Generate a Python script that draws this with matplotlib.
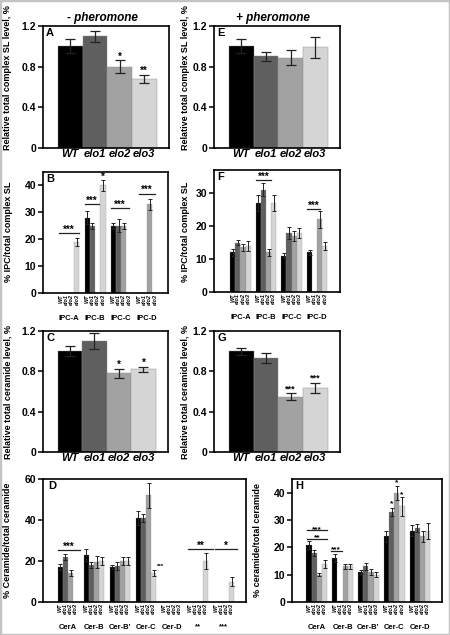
import numpy as np
import matplotlib
matplotlib.use('Agg')
import matplotlib.pyplot as plt
from matplotlib.patches import Rectangle

plt.rcParams['font.family'] = ['Liberation Sans', 'DejaVu Sans']
plt.rcParams['font.weight'] = 'bold'
plt.rcParams['axes.linewidth'] = 1.2

genotypes = ['WT', 'elo1', 'elo2', 'elo3']
colors = ['#000000', '#5f5f5f', '#a2a2a2', '#d5d5d5']

# relative totals (A, E, C, G)
a_vals = [1.0, 1.1, 0.8, 0.68]
a_err = [0.07, 0.055, 0.065, 0.04]
e_vals = [1.0, 0.9, 0.89, 0.99]
e_err = [0.07, 0.045, 0.07, 0.1]
c_vals = [1.0, 1.1, 0.78, 0.82]
c_err = [0.05, 0.08, 0.045, 0.022]
g_vals = [1.0, 0.93, 0.55, 0.635]
g_err = [0.035, 0.047, 0.035, 0.05]

# IPC species (B: - pheromone, F: + pheromone), rows = genotypes
ipc_groups = ['IPC-A', 'IPC-B', 'IPC-C', 'IPC-D']
b_vals = [[0, 28, 25, 0],
          [0, 25, 25, 0],
          [0, 0, 25, 33],
          [19, 40, 0, 0]]
b_err = [[0, 2.5, 1.2, 0],
         [0, 1.2, 2.5, 0],
         [0, 0, 1.2, 2],
         [1.5, 2, 0, 0]]
f_vals = [[12, 27, 11, 12],
          [15, 31, 18, 0],
          [13.5, 12, 17, 22],
          [14, 27, 18, 14]]
f_err = [[1, 2.5, 0.8, 0.8],
         [0.8, 2, 1.8, 0],
         [1, 1, 1.5, 2.5],
         [1.5, 2.5, 1.5, 1.2]]

# ceramide species (D: - pheromone, H: + pheromone)
d_groups = ['CerA', 'Cer-B', "Cer-B'", 'Cer-C', 'Cer-D', '**', '***']
d_vals = [[17, 23, 17, 41, 0, 0, 0],
          [22, 18, 17.5, 41, 0, 0, 0],
          [14, 19.5, 20, 52, 0, 0, 0],
          [0, 20, 20, 14, 0, 20, 10]]
d_err = [[1.5, 3, 1, 3.5, 0, 0, 0],
         [1.5, 1.5, 2, 2, 0, 0, 0],
         [1.5, 3, 2, 6, 0, 0, 0],
         [0, 2, 2, 1.5, 0, 4, 2]]
h_groups = ['CerA', 'Cer-B', "Cer-B'", 'Cer-C', 'Cer-D']
h_vals = [[21, 16, 11, 24, 26],
          [18, 0.5, 13, 33, 27],
          [10, 13, 11, 40, 24],
          [14, 13, 10, 35, 26]]
h_err = [[1.5, 1.5, 0.8, 2, 2],
         [1, 0, 1.2, 1.5, 1.5],
         [0.5, 1, 1, 2.5, 2],
         [1.5, 1, 0.8, 3.5, 3]]

W, H = 450, 635
fig = plt.figure(figsize=(W / 100, H / 100), dpi=100)
fig.patches.append(Rectangle((0, 0), 1, 1, transform=fig.transFigure,
                             fill=False, edgecolor='#c4c4c4', lw=2.5))


def ax_at(l, t, r, b):
    return fig.add_axes([l / W, 1 - b / H, (r - l) / W, (b - t) / H])


def style(ax, letter, ylim, yticks, ytl):
    ax.set_ylim(*ylim)
    ax.set_yticks(yticks)
    ax.set_yticklabels(ytl, fontsize=7.5, fontweight='bold')
    ax.tick_params(axis='y', direction='out', length=3.5, width=1.1, pad=1.5)
    ax.tick_params(axis='x', length=0)
    ax.text(0.025, 0.985, letter, transform=ax.transAxes, fontsize=8,
            fontweight='bold', va='top', ha='left')


def simple(ax, vals, err, letter):
    x = np.arange(4)
    ax.bar(x, vals, width=1.0, color=colors, edgecolor='#8a8a8a', linewidth=0.3)
    ax.errorbar(x, vals, yerr=err, fmt='none', ecolor='#222222', elinewidth=0.9,
                capsize=3.5, capthick=0.9)
    ax.set_xlim(-1.1, 4.0)
    ax.set_xticks(x)
    ax.set_xticklabels(genotypes, fontsize=8, fontweight='bold', style='italic')
    ax.tick_params(axis='x', pad=1)
    style(ax, letter, (0, 1.2), [0, 0.4, 0.8, 1.2], ['0', '0.4', '0.8', '1.2'])


def grouped(ax, groups, vals, err, letter, xlim):
    n = len(groups)
    offs = [-0.3, -0.1, 0.1, 0.3]
    pos, labs = [], []
    for k in range(4):
        xs = np.arange(n) + offs[k]
        v = np.array(vals[k], float)
        e = np.array(err[k], float)
        ax.bar(xs, v, width=0.2, color=colors[k], edgecolor='#8a8a8a', linewidth=0.2)
        m = v > 0
        ax.errorbar(xs[m], v[m], yerr=e[m], fmt='none', ecolor='#222222',
                    elinewidth=0.7, capsize=1.3, capthick=0.7)
    for g in range(n):
        for k in range(4):
            pos.append(g + offs[k])
            labs.append(genotypes[k])
    ax.set_xlim(*xlim)
    ax.set_xticks(pos)
    ax.set_xticklabels(labs, rotation=90, fontsize=4, style='italic', fontweight='bold')
    ax.tick_params(axis='x', pad=1)
    for g, name in enumerate(groups):
        ax.annotate(name, xy=(g, 0), xycoords=('data', 'axes fraction'),
                    xytext=(0, -15.5), textcoords='offset points',
                    ha='center', va='top', fontsize=5.5, fontweight='bold')


def sigline(ax, g, x0, x1, y, txt, fs=7, dy=0.6):
    ax.plot([g + x0, g + x1], [y, y], color='#222222', lw=0.9)
    ax.text(g + (x0 + x1) / 2, y - dy, txt, ha='center', va='bottom',
            fontsize=fs, fontweight='bold')


def star(ax, x, y, txt, fs=7):
    ax.text(x, y, txt, ha='center', va='center', fontsize=fs, fontweight='bold')


# A
axA = ax_at(43, 26, 169, 148)
simple(axA, a_vals, a_err, 'A')
star(axA, 2, 0.895, '*')
star(axA, 3, 0.755, '**')
# E
axE = ax_at(214, 26, 340, 148)
simple(axE, e_vals, e_err, 'E')
# C
axC = ax_at(43, 331, 168, 452)
simple(axC, c_vals, c_err, 'C')
star(axC, 2, 0.86, '*')
star(axC, 3, 0.88, '*')
# G
axG = ax_at(214, 331, 340, 452)
simple(axG, g_vals, g_err, 'G')
star(axG, 2, 0.625, '***', 6.5)
star(axG, 3, 0.73, '***', 6.5)

# B
axB = ax_at(43, 172, 168, 293)
grouped(axB, ipc_groups, b_vals, b_err, 'B', (-1.0, 3.8))
style(axB, 'B', (0, 45), [0, 10, 20, 30, 40], ['0', '10', '20', '30', '40'])
sigline(axB, 0, -0.4, 0.4, 22.4, '***')
sigline(axB, 1, -0.4, 0.15, 33, '***')
sigline(axB, 2, -0.4, 0.3, 31.7, '***')
sigline(axB, 3, -0.3, 0.3, 37, '***')
star(axB, 1.3, 43.3, '*')

# F
axF = ax_at(214, 170, 340, 292)
grouped(axF, ipc_groups, f_vals, f_err, 'F', (-1.03, 3.89))
style(axF, 'F', (0, 37), [0, 10, 20, 30], ['0', '10', '20', '30'])
sigline(axF, 1, -0.4, 0.2, 34, '***')
sigline(axF, 3, -0.4, 0.1, 25.2, '***')

# D
axD = ax_at(43, 479, 246, 602)
grouped(axD, d_groups, d_vals, d_err, 'D', (-0.96, 6.85))
style(axD, 'D', (0, 60), [0, 20, 40, 60], ['0', '20', '40', '60'])
sigline(axD, 0, -0.37, 0.46, 25.2, '***')
sigline(axD, 5, -0.38, 0.57, 25.7, '**')
sigline(axD, 6, -0.35, 0.49, 25.7, '*')
star(axD, 3.58, 17.2, '***', 4.5)

# H
axHh = ax_at(292, 479, 442, 602)
grouped(axHh, h_groups, h_vals, h_err, 'H', (-0.96, 4.85))
style(axHh, 'H', (0, 45), [0, 10, 20, 30, 40], ['0', '10', '20', '30', '40'])
sigline(axHh, 0, -0.39, 0.39, 26.2, '***', 6, 1.0)
sigline(axHh, 0, -0.39, 0.39, 23.1, '**', 6, 1.0)
sigline(axHh, 1, -0.46, -0.03, 18.7, '***', 6, 1.0)
star(axHh, 2.9, 35.8, '*', 6)
star(axHh, 3.1, 43.8, '*', 6)
star(axHh, 3.3, 39.3, '*', 6)

# titles
fig.text(102 / W, 1 - 18 / H, '- pheromone', ha='center', va='center',
         fontsize=8.5, fontweight='bold', style='italic')
fig.text(273 / W, 1 - 18 / H, '+ pheromone', ha='center', va='center',
         fontsize=8.5, fontweight='bold', style='italic')

# y labels
ylabels = [(8, 78, 'Relative total complex SL level, %'),
           (9, 232, '% IPC/total complex SL'),
           (8, 392, 'Relative total ceramide level, %'),
           (8, 540, '% Ceramide/total ceramide'),
           (185, 78, 'Relative total complex SL level, %'),
           (186, 232, '% IPC/total complex SL'),
           (185, 392, 'Relative total ceramide level, %'),
           (258, 540, '% ceramide/total ceramide')]
for x, y, t in ylabels:
    fig.text(x / W, 1 - y / H, t, rotation=90, ha='center', va='center',
             fontsize=6.5, fontweight='bold')

fig.savefig('out.png', dpi=100)
